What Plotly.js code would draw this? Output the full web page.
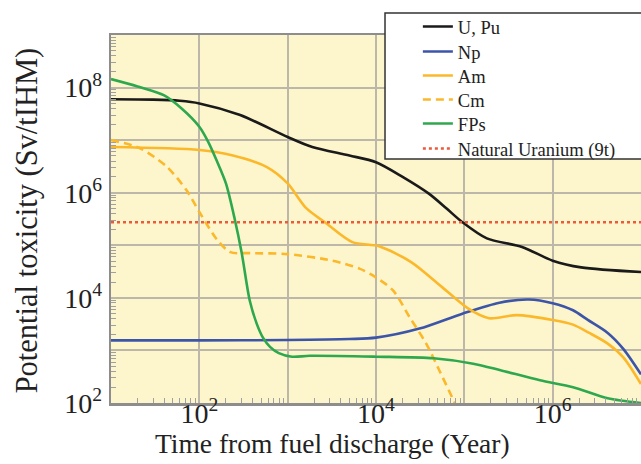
<!DOCTYPE html>
<html>
<head>
<meta charset="utf-8">
<script src="https://cdn.plot.ly/plotly-3.0.1.min.js"></script>
<style>
  html, body { margin: 0; padding: 0; background: #ffffff; }
  #chart { width: 641px; height: 464px; }
</style>
</head>
<body>
<div id="chart"></div>
<script>
// Potential toxicity of spent fuel components versus time after discharge

// U, Pu
const uPuYears = [10, 30, 60, 100, 290, 1000, 1900, 5000, 1e4, 2.0e4, 4.0e4, 6.3e4, 9.5e4, 1.8e5, 4.5e5, 1e6, 2.1e6, 1e7];
const uPuTox   = [6.0e7, 5.9e7, 5.6e7, 5.0e7, 3.0e7, 1.15e7, 7.4e6, 5.1e6, 3.8e6, 2.0e6, 9.5e5, 5.0e5, 2.75e5, 1.35e5, 9.3e4, 5.1e4, 3.8e4, 3.1e4];

// Np
const npYears = [10, 100, 1000, 5000, 1e4, 3.1e4, 9.5e4, 2.5e5, 5.4e5, 1e6, 1.7e6, 2.5e6, 4.2e6, 6.3e6, 1e7];
const npTox   = [1.55e3, 1.55e3, 1.58e3, 1.65e3, 1.75e3, 2.6e3, 5.0e3, 8.1e3, 9.3e3, 7.9e3, 5.8e3, 3.8e3, 2.15e3, 1.07e3, 3.5e2];

// Am
const amYears = [10, 100, 240, 575, 1000, 1600, 2750, 5400, 1.1e4, 2.5e4, 5.6e4, 1.1e5, 1.9e5, 3.9e5, 1e6, 1.7e6, 2.6e6, 4.2e6, 6.3e6, 1e7];
const amTox   = [7.4e6, 6.5e6, 5.1e6, 3.1e6, 1.5e6, 5.2e5, 2.6e5, 1.15e5, 9.5e4, 4.8e4, 1.6e4, 6.3e3, 4.1e3, 4.7e3, 3.8e3, 3.1e3, 2.15e3, 1.35e3, 7.4e2, 2.3e2];

// Cm
const cmYears = [10, 21, 43, 72, 100, 160, 225, 370, 1000, 3200, 6500, 9100, 1.55e4, 2.4e4, 3.7e4, 5.2e4, 7.8e4, 8.9e4];
const cmTox   = [1.0e7, 7.1e6, 3.1e6, 1.1e6, 4.3e5, 1.26e5, 7.4e4, 7.1e4, 6.8e4, 5.1e4, 3.6e4, 2.7e4, 1.4e4, 4.3e3, 1.35e3, 4.2e2, 1.0e2, 63];

// Fission products
const fpYears = [10, 20, 40, 63, 100, 126, 158, 200, 251, 302, 372, 447, 525, 631, 794, 1120, 1780, 1e4, 4.5e4, 1.26e5, 2.57e5, 7.2e5, 1.7e6, 4.2e6, 1e7];
const fpTox   = [1.45e8, 1.05e8, 7.1e7, 4.0e7, 1.8e7, 9.3e6, 4.0e6, 1.5e6, 3.2e5, 7.1e4, 8.9e3, 3.2e3, 1.75e3, 1.17e3, 8.9e2, 7.6e2, 7.9e2, 7.6e2, 7.1e2, 5.6e2, 4.2e2, 2.7e2, 2.0e2, 1.23e2, 1.0e2];

// Natural uranium reference level (9 t)
const natUYears = [10, 1e7];
const natUTox   = [2.75e5, 2.75e5];

// Axis ticks: a grid line every decade, a label every second decade
const xGridVals  = [1e1, 1e2, 1e3, 1e4, 1e5, 1e6, 1e7];
const xLabelVals = [1e2, 1e4, 1e6];
const xLabelText = ['10<sup>2</sup>', '10<sup>4</sup>', '10<sup>6</sup>'];
const yGridVals  = [1e2, 1e3, 1e4, 1e5, 1e6, 1e7, 1e8, 1e9];
const yLabelVals = [1e2, 1e4, 1e6, 1e8];
const yLabelText = ['10<sup>2</sup>', '10<sup>4</sup>', '10<sup>6</sup>', '10<sup>8</sup>'];

function minorTicks(fromExp, toExp) {
  const out = [];
  for (let e = fromExp; e < toExp; e++) {
    for (let m = 2; m <= 9; m++) out.push(m * Math.pow(10, e));
  }
  return out;
}

const serif = "'Liberation Serif', 'Times New Roman', Times, serif";
const textColor = '#222222';

function curve(name, x, y, color, legendId, dash) {
  return {
    type: 'scatter', mode: 'lines', name: name, x: x, y: y,
    legend: legendId,
    line: { color: color, width: 2.6, shape: 'spline', smoothing: 0.8, dash: dash || 'solid' },
    hoverinfo: 'skip'
  };
}

const traces = [
  curve('U, Pu', uPuYears, uPuTox, '#1a1a1a', 'legend'),
  curve('Np', npYears, npTox, '#3c55a8', 'legend2'),
  curve('Am', amYears, amTox, '#fbb82a', 'legend3'),
  curve('Cm', cmYears, cmTox, '#fbb82a', 'legend4', '8px,5px'),
  curve('FPs', fpYears, fpTox, '#2ea84e', 'legend5'),
  {
    type: 'scatter', mode: 'lines', name: 'Natural Uranium (9t)',
    x: natUYears, y: natUTox, legend: 'legend6',
    line: { color: '#ec5a3c', width: 2.4, dash: 'dot' },
    hoverinfo: 'skip'
  },
  // empty holder so the label axes are laid out
  {
    type: 'scatter', mode: 'lines', x: [], y: [],
    xaxis: 'x2', yaxis: 'y2', showlegend: false, hoverinfo: 'skip'
  }
];

const minorStyle = { ticks: 'inside', ticklen: 5, tickwidth: 1, tickcolor: '#a0a0a0', showgrid: false };
const tickFont = { family: serif, size: 28, color: textColor };

// one legend per entry so the rows sit at an even pitch
function legendAt(yPaper) {
  return {
    x: 0.579, xanchor: 'left', y: yPaper, yanchor: 'middle',
    bgcolor: 'rgba(0,0,0,0)', borderwidth: 0, itemwidth: 30,
    font: { family: serif, size: 18.5, color: textColor }
  };
}

const layout = {
  width: 641, height: 464,
  margin: { l: 111, r: 0, t: 35, b: 61, autoexpand: false },
  paper_bgcolor: '#ffffff',
  plot_bgcolor: '#fdf6cc',
  showlegend: true,
  // main axes: frame, decade grid and minor ticks
  xaxis: {
    type: 'log', range: [1, 7],
    showgrid: true, gridcolor: '#bcb7a8', gridwidth: 2,
    showline: true, linecolor: '#8d8d8d', linewidth: 2.5, mirror: true,
    zeroline: false, ticks: '', showticklabels: false,
    tickmode: 'array', tickvals: xGridVals,
    minor: Object.assign({ tickmode: 'array', tickvals: minorTicks(1, 7) }, minorStyle)
  },
  yaxis: {
    type: 'log', range: [2, 9],
    showgrid: true, gridcolor: '#bcb7a8', gridwidth: 2,
    showline: true, linecolor: '#8d8d8d', linewidth: 2.5, mirror: false,
    zeroline: false, ticks: '', showticklabels: false,
    tickmode: 'array', tickvals: yGridVals,
    minor: Object.assign({ tickmode: 'array', tickvals: minorTicks(2, 9) }, minorStyle)
  },
  // label axes: power-of-ten labels every second decade
  xaxis2: {
    type: 'log', range: [1, 7], overlaying: 'x',
    anchor: 'free', position: 0.025, side: 'bottom',
    showgrid: false, showline: false, zeroline: false, ticks: '',
    tickmode: 'array', tickvals: xLabelVals, ticktext: xLabelText,
    tickfont: tickFont
  },
  yaxis2: {
    type: 'log', range: [2, 9], overlaying: 'y',
    anchor: 'x2', side: 'left',
    showgrid: false, showline: false, zeroline: false, ticks: '',
    tickmode: 'array', tickvals: yLabelVals, ticktext: yLabelText,
    ticklabelstandoff: 8,
    tickfont: tickFont
  },
  legend:  legendAt(1.0217),
  legend2: legendAt(0.9538),
  legend3: legendAt(0.8886),
  legend4: legendAt(0.8234),
  legend5: legendAt(0.7582),
  legend6: legendAt(0.6902),
  shapes: [
    {
      type: 'rect', xref: 'paper', yref: 'paper',
      x0: 0.517, x1: 1.05, y0: 0.663, y1: 1.06,
      line: { color: '#333333', width: 1.5 },
      fillcolor: '#ffffff', layer: 'above'
    }
  ],
  annotations: [
    {
      text: 'Time from fuel discharge (Year)',
      xref: 'paper', yref: 'paper', x: 0.417, y: -0.109,
      xanchor: 'center', yanchor: 'middle', showarrow: false,
      font: { family: serif, size: 27.5, color: textColor }
    },
    {
      text: 'Potential toxicity (Sv/tIHM)',
      xref: 'paper', yref: 'paper', x: -0.158, y: 0.497,
      xanchor: 'center', yanchor: 'middle', showarrow: false, textangle: -90,
      font: { family: serif, size: 30.5, color: textColor }
    }
  ]
};

Plotly.newPlot('chart', traces, layout, { staticPlot: true, displayModeBar: false });
</script>
</body>
</html>
